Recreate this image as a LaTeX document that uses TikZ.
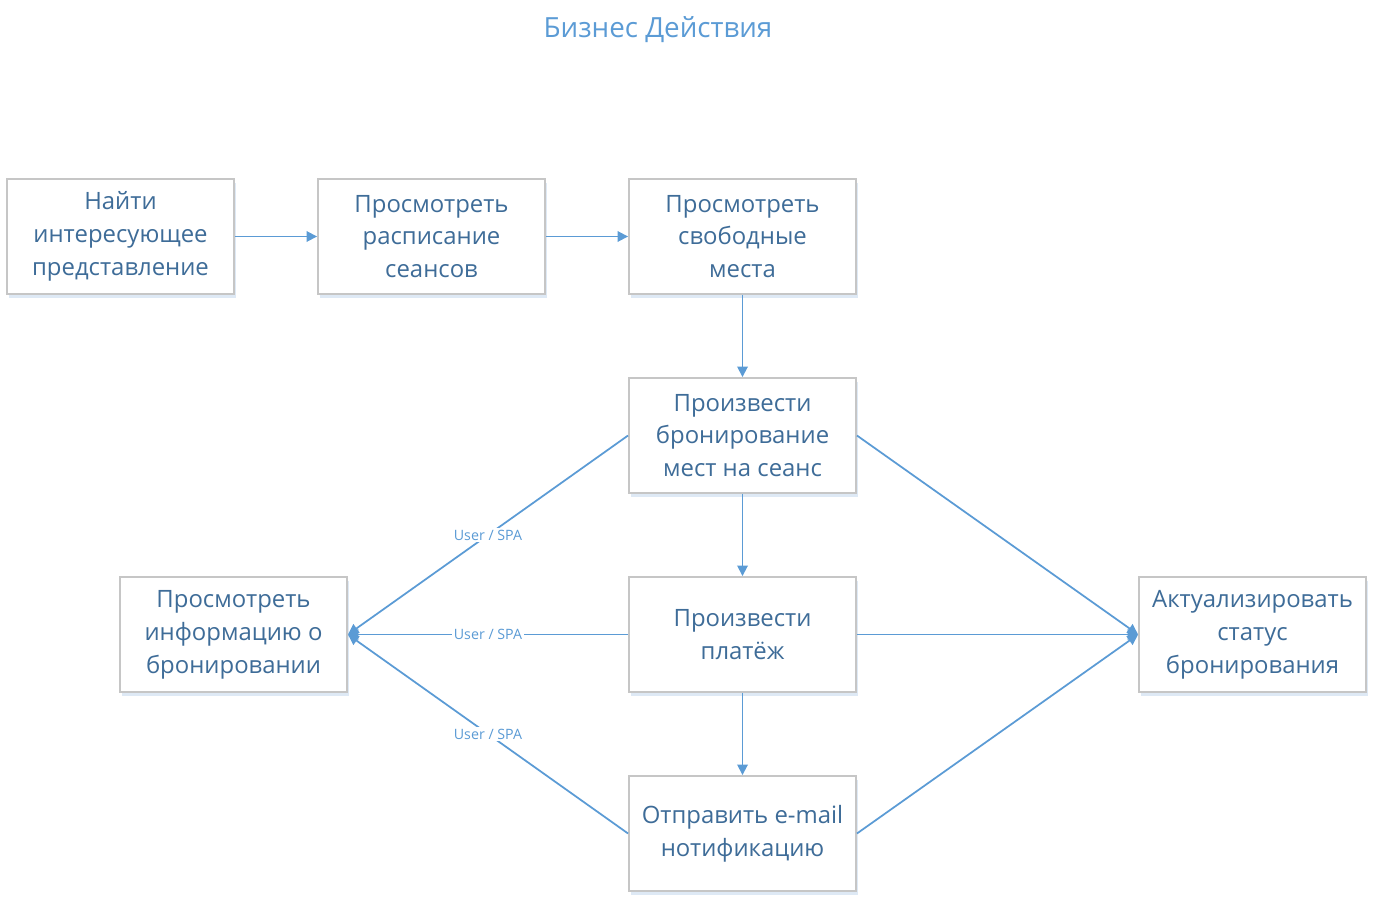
\documentclass[tikz,border=0pt]{standalone}
\usepackage{fontspec}
\setmainfont{Open Sans}
\usetikzlibrary{arrows.meta,shadows}
\definecolor{lineblue}{HTML}{5B9BD5}
\definecolor{textblue}{HTML}{3E6C98}
\definecolor{boxgray}{HTML}{C6C6C6}
\definecolor{shadeblue}{HTML}{D6E4F2}

\begin{document}
\begin{tikzpicture}[x=0.02cm, y=-0.02cm,
    act/.style={shape=rectangle, draw=boxgray, line width=1.1pt, fill=white,
        minimum width=4.54cm, minimum height=2.3cm, align=center, text=textblue,
        font=\fontsize{13.6}{18.7}\selectfont,
        drop shadow={shadow xshift=1pt, shadow yshift=-2pt, fill=shadeblue, opacity=0.8}},
    flow/.style={draw=lineblue, line width=1pt, -{Triangle[length=6pt, width=6pt]}},
    lbl/.style={fill=white, text=lineblue, font=\fontsize{8.1}{9}\selectfont, inner sep=1pt}]
    \useasboundingbox (0, 0) rectangle (1375, 902);

    \node (title) at (658, 30) [text=lineblue, font=\fontsize{15.8}{18}\selectfont] {Бизнес Действия};

    \node (n0) at (120.5, 236.5) [act] {Найти\\интересующее\\представление};
    \node (n1) at (431.5, 236.5) [act] {Просмотреть\\расписание\\сеансов};
    \node (n2) at (742.5, 236.5) [act] {Просмотреть\\свободные\\места};
    \node (n3) at (742.5, 435.5) [act] {Произвести\\бронирование\\мест на сеанс};
    \node (n4) at (742.5, 634.5) [act] {Произвести\\платёж};
    \node (n5) at (742.5, 833.5) [act] {Отправить e-mail\\нотификацию};
    \node (n6) at (233.5, 634.5) [act] {Просмотреть\\информацию о\\бронировании};
    \node (n7) at (1252.5, 634.5) [act] {Актуализировать\\статус\\бронирования};

    \draw[flow] (n0) -- (n1);
    \draw[flow] (n1) -- (n2);
    \draw[flow] (n2) -- (n3);
    \draw[flow] (n3) -- (n4);
    \draw[flow] (n4) -- (n5);

    \draw[flow] (n3.west) -- node[lbl] {User / SPA} (n6.east);
    \draw[flow] (n4.west) -- node[lbl] {User / SPA} (n6.east);
    \draw[flow] (n5.west) -- node[lbl] {User / SPA} (n6.east);

    \draw[flow] (n3.east) -- (n7.west);
    \draw[flow] (n4.east) -- (n7.west);
    \draw[flow] (n5.east) -- (n7.west);
\end{tikzpicture}
\end{document}
